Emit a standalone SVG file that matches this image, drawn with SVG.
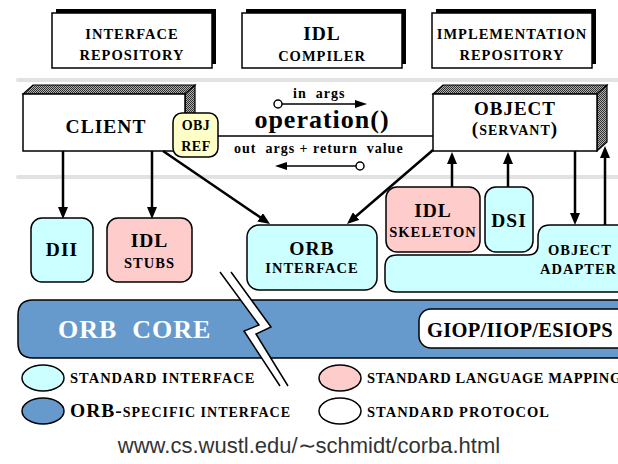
<svg xmlns="http://www.w3.org/2000/svg" width="618" height="464" viewBox="0 0 618 464">
<defs>
<pattern id="chk" width="2" height="2" patternUnits="userSpaceOnUse"><rect width="2" height="2" fill="#b0b0b0"/><rect width="1" height="1" fill="#303030"/><rect x="1" y="1" width="1" height="1" fill="#303030"/></pattern>
<marker id="ah" viewBox="0 0 12 10" refX="7" refY="5" markerWidth="12" markerHeight="10" markerUnits="userSpaceOnUse" orient="auto"><path d="M0,0 L12,5 L0,10 z" fill="#000"/></marker>
<marker id="ahs" viewBox="0 0 12 8" refX="7" refY="4" markerWidth="12" markerHeight="8" markerUnits="userSpaceOnUse" orient="auto"><path d="M0,0 L12,4 L0,8 z" fill="#000"/></marker>
</defs>
<style>
.t{font-family:"Liberation Serif","Times New Roman",serif;font-weight:bold;fill:#000;text-anchor:middle;letter-spacing:1px}
.st{text-anchor:start}
.s{font-size:14.5px}
.b{font-size:19.5px}
.box{fill:#fff;stroke:#000;stroke-width:1.5}
.sh{fill:#000}
.tex{fill:url(#chk);stroke:#000;stroke-width:1.2}
.cy{fill:#ccffff;stroke:#000;stroke-width:1.5}
.pk{fill:#ffcccc;stroke:#000;stroke-width:1.5}
.bl{fill:#6699cc;stroke:#000;stroke-width:1.5}
.wh{fill:#fff;stroke:#000;stroke-width:1.5}
.sep{stroke:#e2e2e2;stroke-width:4;stroke-linecap:round}
.conn{stroke:#000;stroke-width:2.5;fill:none}
.thin{stroke:#000;stroke-width:1.5;fill:none}
</style>

<g id="separators">
<line class="sep" x1="18" y1="80" x2="618" y2="80"/>
<line class="sep" x1="18" y1="177" x2="618" y2="177"/>
</g>

<g id="interface-repository">
<rect class="sh" x="56" y="9" width="160" height="55"/>
<rect class="box" x="52" y="13" width="160" height="55"/>
<text class="t s" x="132" y="39">INTERFACE</text>
<text class="t s" x="132" y="60">REPOSITORY</text>
</g>
<g id="idl-compiler">
<rect class="sh" x="246" y="9" width="160" height="55"/>
<rect class="box" x="242" y="13" width="160" height="55"/>
<text class="t b" x="322" y="40">IDL</text>
<text class="t s" x="322" y="61">COMPILER</text>
</g>
<g id="implementation-repository">
<rect class="sh" x="436" y="9" width="160" height="55"/>
<rect class="box" x="432" y="13" width="160" height="55"/>
<text class="t s" x="512" y="39">IMPLEMENTATION</text>
<text class="t s" x="512" y="60">REPOSITORY</text>
</g>

<g id="client">
<polygon class="tex" points="23,94 33,85 195,85 185,94"/>
<polygon class="tex" points="185,94 195,85 195,142 185,151"/>
<rect class="box" x="23" y="94" width="162" height="57"/>
<text class="t b" x="106" y="133">CLIENT</text>
</g>

<g id="object">
<polygon class="tex" points="433,94 443,85 607,85 597,94"/>
<polygon class="tex" points="597,94 607,85 607,142 597,151"/>
<rect class="box" x="433" y="94" width="164" height="57"/>
<text class="t" x="515" y="115" font-size="19">OBJECT</text>
<text class="t" x="515" y="135"><tspan font-size="19">(</tspan><tspan font-size="14">SERVANT</tspan><tspan font-size="19">)</tspan></text>
</g>

<g id="dii">
<rect class="cy" x="31" y="218" width="62" height="64" rx="11"/>
<text class="t b" x="62" y="256">DII</text>
</g>
<g id="idl-stubs">
<rect class="pk" x="107" y="218" width="85" height="64" rx="11"/>
<text class="t b" x="149.5" y="247">IDL</text>
<text class="t s" x="149.5" y="268">STUBS</text>
</g>
<g id="orb-interface">
<rect class="cy" x="247" y="225" width="130" height="65" rx="12"/>
<text class="t b" x="312" y="255">ORB</text>
<text class="t s" x="312" y="273">INTERFACE</text>
</g>
<g id="idl-skeleton">
<rect class="pk" x="386" y="187" width="94" height="65" rx="11"/>
<text class="t b" x="433" y="217">IDL</text>
<text class="t s" x="433" y="237">SKELETON</text>
</g>
<g id="dsi">
<rect class="cy" x="485" y="187" width="48" height="65" rx="11"/>
<text class="t b" x="509" y="227">DSI</text>
</g>
<g id="object-adapter">
<path class="cy" d="M385,267 Q385,255 397,255 L528,255 Q538,255 538,245 L538,237 Q538,225 550,225 L630,225 L630,292 L397,292 Q385,292 385,280 Z"/>
<text class="t s st" x="548" y="255">OBJECT</text>
<text class="t s st" x="540" y="274">ADAPTER</text>
</g>

<g id="orb-core">
<path class="bl" d="M33,300 L630,300 L630,358 L33,358 Q18,358 18,343 L18,315 Q18,300 33,300 Z"/>
<text class="t st" x="58" y="338" font-size="26" style="fill:#fff">ORB&#160; CORE</text>
</g>
<g id="giop">
<rect class="wh" x="419" y="309" width="211" height="39" rx="12"/>
<text class="t st" x="427" y="337" font-size="20.5" style="letter-spacing:0.3px">GIOP/IIOP/ESIOPS</text>
</g>

<g id="break">
<polygon points="220,272 259,325 244,331 280,386 288,386 256,334 271,327 231,272" fill="#fff"/>
<polyline class="thin" points="220,272 259,325 244,331 280,386"/>
<polyline class="thin" points="231,272 271,327 256,334 288,386"/>
</g>

<g id="obj-ref">
<rect x="173" y="113" width="45" height="44" rx="9" fill="#ffffc8" stroke="#000" stroke-width="1.5"/>
<text class="t" x="196" y="130" font-size="14" style="letter-spacing:0.5px">OBJ</text>
<text class="t" x="196" y="151" font-size="14" style="letter-spacing:0.5px">REF</text>
</g>

<g id="connectors">
<line class="thin" x1="218" y1="136" x2="433" y2="136"/>
<circle cx="278" cy="104" r="4" fill="#fff" stroke="#000" stroke-width="1.5"/>
<line class="thin" x1="282" y1="104" x2="362" y2="104" marker-end="url(#ahs)"/>
<circle cx="360" cy="166" r="4" fill="#fff" stroke="#000" stroke-width="1.5"/>
<line class="thin" x1="356" y1="166" x2="280" y2="166" marker-end="url(#ahs)"/>
<line class="conn" x1="63" y1="151" x2="63" y2="214" marker-end="url(#ah)"/>
<line class="conn" x1="152" y1="151" x2="152" y2="214" marker-end="url(#ah)"/>
<line class="conn" x1="163" y1="151" x2="265.9" y2="221.2" marker-end="url(#ah)"/>
<line class="conn" x1="433" y1="150" x2="350.8" y2="220.7" marker-end="url(#ah)"/>
<line class="conn" x1="452" y1="187" x2="452" y2="157" marker-end="url(#ah)"/>
<line class="conn" x1="508" y1="187" x2="508" y2="157" marker-end="url(#ah)"/>
<line class="conn" x1="575" y1="151" x2="575" y2="220" marker-end="url(#ah)"/>
<line class="conn" x1="605" y1="225" x2="605" y2="151" marker-end="url(#ah)"/>
</g>

<g id="labels">
<text class="t st" x="293" y="98" font-size="14">in&#160; args</text>
<text class="t" x="322" y="128" font-size="26">operation()</text>
<text class="t st" x="234" y="153" font-size="14">out&#160; args + return&#160; value</text>
</g>

<g id="legend">
<ellipse class="cy" cx="43" cy="378" rx="21" ry="13"/>
<text class="t s st" x="70" y="383">STANDARD INTERFACE</text>
<ellipse class="pk" cx="340" cy="378" rx="21" ry="13"/>
<text class="t s st" x="367" y="383" style="letter-spacing:0.6px">STANDARD LANGUAGE MAPPING</text>
<ellipse class="bl" cx="43" cy="411" rx="21" ry="13"/>
<text class="t st" x="70" y="417"><tspan font-size="19.5">ORB-</tspan><tspan font-size="14">SPECIFIC INTERFACE</tspan></text>
<ellipse class="wh" cx="340" cy="411" rx="21" ry="13"/>
<text class="t s st" x="367" y="417">STANDARD PROTOCOL</text>
</g>

<text x="309" y="453" font-family="'Liberation Sans', Arial, sans-serif" font-size="22" fill="#333" text-anchor="middle">www.cs.wustl.edu/∼schmidt/corba.html</text>
</svg>
